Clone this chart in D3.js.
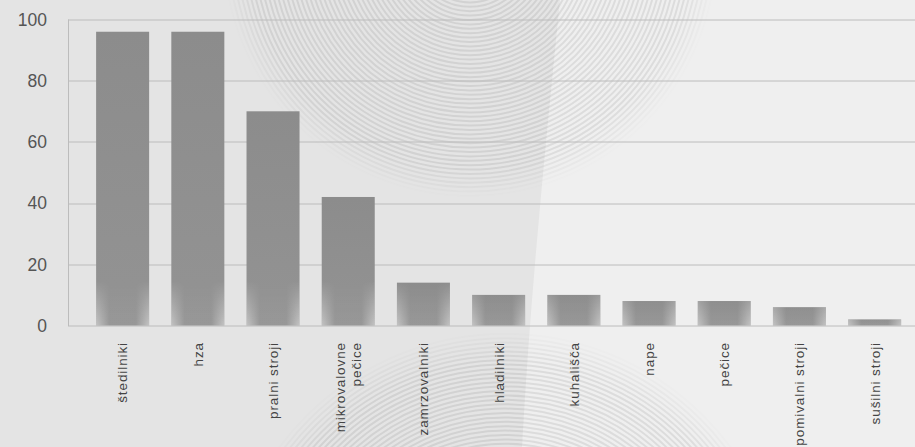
<!DOCTYPE html>
<html>
<head>
<meta charset="utf-8">
<script src="https://cdn.jsdelivr.net/npm/d3@7"></script>
<style>
    body { margin: 0; background: #e4e4e4; }
    svg { display: block; }
    .tick-label { font-family: "Liberation Sans", Arial, sans-serif; font-size: 17.5px; fill: #555; }
    .cat-label { font-family: "Liberation Sans", Arial, sans-serif; font-size: 13.5px; fill: #444; letter-spacing: 0.9px; }
</style>
</head>
<body>
<div class="graph"></div>
<script>
(function() {
    var categories = ["štedilniki", "hza", "pralni stroji", "mikrovalovne pečice", "zamrzovalniki",
        "hladilniki", "kuhališča", "nape", "pečice", "pomivalni stroji", "sušilni stroji"];
    var values = [96, 96, 70, 42, 14, 10, 10, 8, 8, 6, 2];
    var yTicks = [0, 20, 40, 60, 80, 100];

    var widthBase = 915;
    var heightBase = 447;
    var margins = { "top": 19.5, "right": 0, "bottom": 121.5, "left": 68 };
    var width = widthBase - margins.left - margins.right;
    var height = heightBase - margins.top - margins.bottom;

    var x = d3.scaleBand()
        .domain(categories)
        .range([0, width])
        .paddingInner(0.295)
        .paddingOuter(0.279)
        .align(0.67);

    var y = d3.scaleLinear()
        .domain([0, 100])
        .range([height, 0]);

    var svg = d3.select(".graph")
        .append("svg")
            .attr("width", widthBase)
            .attr("height", heightBase);

    var defs = svg.append("defs");

    // decorative background: two tones and ring patterns
    svg.append("rect")
        .attr("width", widthBase)
        .attr("height", heightBase)
        .attr("fill", "#e4e4e4");
    svg.append("path")
        .attr("d", "M560,0 C545,150 530,300 522,447 L915,447 L915,0 Z")
        .attr("fill", "#efefef");

    var discs = [
        { id: "discA", cx: 470, cy: -50, r: 248 },
        { id: "discB", cx: 505, cy: 615, r: 285 }
    ];
    var fade = defs.append("radialGradient").attr("id", "discFade");
    fade.append("stop").attr("offset", "0%").attr("stop-color", "#fff").attr("stop-opacity", 1);
    fade.append("stop").attr("offset", "88%").attr("stop-color", "#fff").attr("stop-opacity", 1);
    fade.append("stop").attr("offset", "100%").attr("stop-color", "#fff").attr("stop-opacity", 0);
    discs.forEach(function(d) {
        defs.append("mask").attr("id", d.id)
            .attr("maskUnits", "userSpaceOnUse")
            .attr("x", d.cx - d.r).attr("y", d.cy - d.r)
            .attr("width", 2 * d.r).attr("height", 2 * d.r)
            .append("circle")
                .attr("cx", d.cx).attr("cy", d.cy).attr("r", d.r)
                .attr("fill", "url(#discFade)");
        var g = svg.append("g").attr("mask", "url(#" + d.id + ")");
        g.selectAll("circle")
            .data(d3.range(4, d.r, 4.4))
            .join("circle")
                .attr("cx", d.cx)
                .attr("cy", d.cy)
                .attr("r", function(r) { return r; })
                .attr("fill", "none")
                .attr("stroke", "#000")
                .attr("stroke-opacity", 0.08)
                .attr("stroke-width", 2);
    });

    // bar shading
    var vGrad = defs.append("linearGradient")
        .attr("id", "barFill")
        .attr("x1", 0).attr("y1", 0).attr("x2", 0).attr("y2", 1);
    vGrad.append("stop").attr("offset", "0%").attr("stop-color", "#8c8c8c");
    vGrad.append("stop").attr("offset", "100%").attr("stop-color", "#939393");

    var hGrad = defs.append("linearGradient")
        .attr("id", "edgeFill")
        .attr("x1", 0).attr("y1", 0).attr("x2", 1).attr("y2", 0);
    hGrad.append("stop").attr("offset", "0%").attr("stop-color", "#fff").attr("stop-opacity", 0.45);
    hGrad.append("stop").attr("offset", "25%").attr("stop-color", "#fff").attr("stop-opacity", 0.05);
    hGrad.append("stop").attr("offset", "75%").attr("stop-color", "#fff").attr("stop-opacity", 0.05);
    hGrad.append("stop").attr("offset", "100%").attr("stop-color", "#fff").attr("stop-opacity", 0.45);

    var mGrad = defs.append("linearGradient")
        .attr("id", "edgeMaskGrad")
        .attr("gradientUnits", "userSpaceOnUse")
        .attr("x1", 0).attr("y1", margins.top + height - 45)
        .attr("x2", 0).attr("y2", margins.top + height);
    mGrad.append("stop").attr("offset", "0%").attr("stop-color", "#fff").attr("stop-opacity", 0);
    mGrad.append("stop").attr("offset", "100%").attr("stop-color", "#fff").attr("stop-opacity", 1);
    defs.append("mask").attr("id", "edgeMask")
        .attr("maskUnits", "userSpaceOnUse")
        .attr("x", 0).attr("y", 0).attr("width", widthBase).attr("height", heightBase)
        .append("rect")
            .attr("width", widthBase).attr("height", heightBase)
            .attr("fill", "url(#edgeMaskGrad)");

    var graph = svg.append("g")
        .attr("transform", "translate(" + margins.left + "," + margins.top + ")");

    // gridlines
    graph.append("g")
        .selectAll("line")
        .data(yTicks)
        .join("line")
            .attr("x1", 0)
            .attr("x2", width)
            .attr("y1", function(d) { return Math.round(y(d)) + 0.5; })
            .attr("y2", function(d) { return Math.round(y(d)) + 0.5; })
            .attr("stroke", "#bcbcbc")
            .attr("stroke-width", 1);

    graph.append("line")
        .attr("x1", 0.5).attr("x2", 0.5)
        .attr("y1", y(100)).attr("y2", y(0) + 0.5)
        .attr("stroke", "#bcbcbc");

    // y labels
    graph.append("g")
        .selectAll("text")
        .data(yTicks)
        .join("text")
            .attr("class", "tick-label")
            .attr("x", -21)
            .attr("y", function(d) { return y(d); })
            .attr("dy", "0.36em")
            .style("text-anchor", "end")
            .text(function(d) { return d; });

    // bars
    var bars = graph.append("g");
    bars.selectAll("rect.bar")
        .data(values)
        .join("rect")
            .attr("class", "bar")
            .attr("x", function(d, i) { return x(categories[i]); })
            .attr("y", function(d) { return y(d); })
            .attr("width", x.bandwidth())
            .attr("height", function(d) { return y(0) - y(d); })
            .attr("fill", "url(#barFill)");

    var edges = graph.append("g").attr("mask", "url(#edgeMask)")
        .attr("transform", "translate(" + (-margins.left) + "," + (-margins.top) + ")")
        .append("g")
            .attr("transform", "translate(" + margins.left + "," + margins.top + ")");
    edges.selectAll("rect")
        .data(values)
        .join("rect")
            .attr("x", function(d, i) { return x(categories[i]); })
            .attr("y", function(d) { return y(d); })
            .attr("width", x.bandwidth())
            .attr("height", function(d) { return y(0) - y(d); })
            .attr("fill", "url(#edgeFill)");

    // category labels, rotated
    var labels = graph.append("g")
        .selectAll("text")
        .data(categories)
        .join("text")
            .attr("class", "cat-label")
            .attr("transform", function(d) {
                return "translate(" + (x(d) + x.bandwidth() / 2) + "," + (height + 16.5) + ") rotate(-90)";
            })
            .style("text-anchor", "end");

    labels.each(function(d) {
        var lines = d.length > 17 ? d.split(" ") : [d];
        var lh = 16;
        var t = d3.select(this);
        lines.forEach(function(line, j) {
            t.append("tspan")
                .attr("x", 0)
                .attr("y", (j - (lines.length - 1) / 2) * lh)
                .attr("dy", "0.36em")
                .text(line);
        });
    });
})();
</script>
</body>
</html>
